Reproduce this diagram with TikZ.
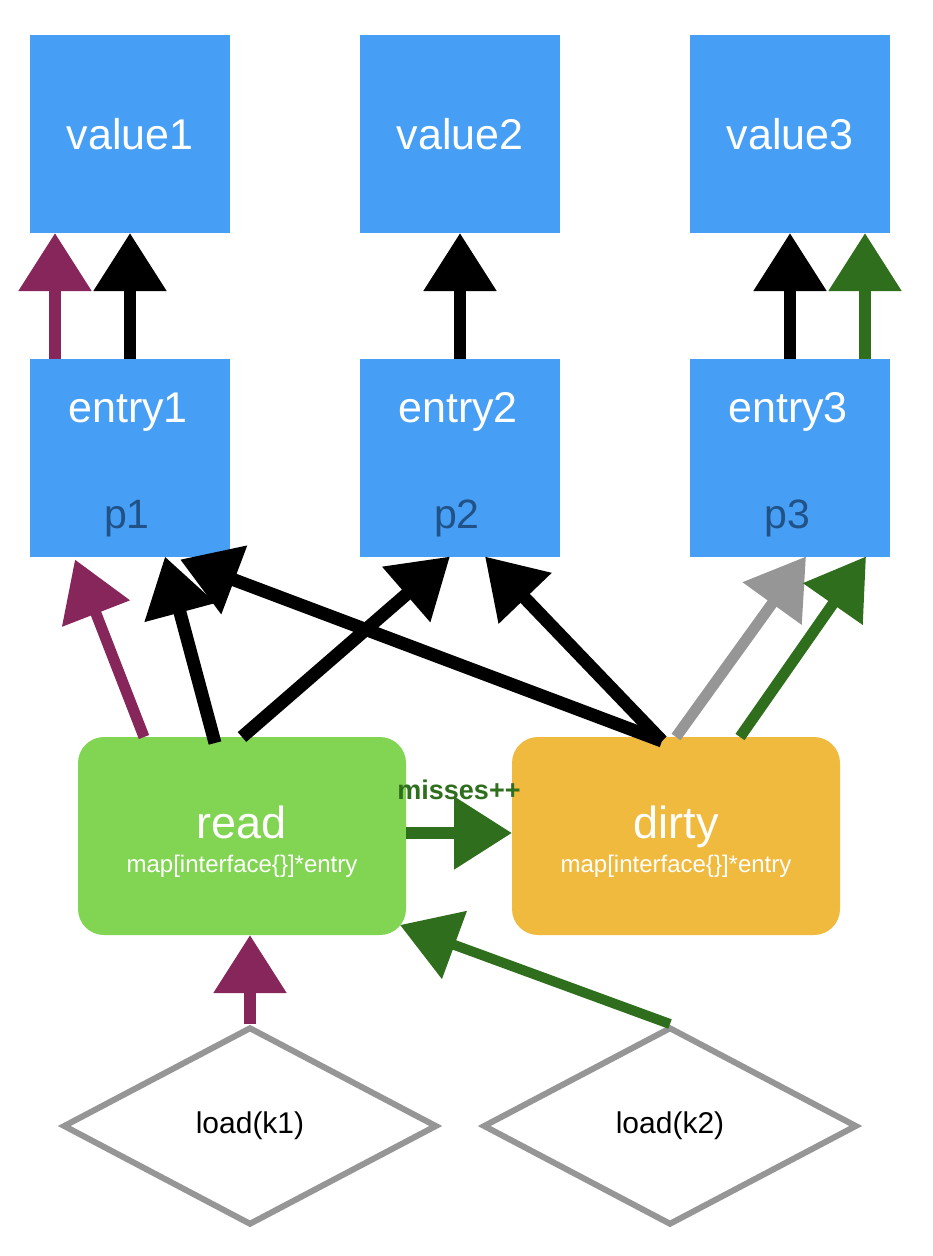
\documentclass[tikz,border=0pt]{standalone}
\usepackage{fontspec}
\setmainfont{Liberation Sans}
\usepackage{tikz}
\usetikzlibrary{arrows.meta,shapes.geometric,positioning}
\definecolor{CellBlue}{RGB}{70,158,245}
\definecolor{PtrNavy}{RGB}{33,82,135}
\definecolor{ReadGreen}{RGB}{130,213,82}
\definecolor{DirtyYellow}{RGB}{239,186,62}
\definecolor{LoadPlum}{RGB}{134,38,90}
\definecolor{StoreGreen}{RGB}{47,110,28}
\definecolor{EdgeGray}{RGB}{150,150,150}

\begin{document}
\begin{tikzpicture}[x=1pt, y=-1pt,
    cell/.style={fill=CellBlue, minimum width=200pt, minimum height=198pt, inner sep=0pt, outer sep=0pt},
    mapbox/.style={minimum width=328pt, minimum height=198pt, rounded corners=26pt, inner sep=0pt, outer sep=0pt},
    bigtxt/.style={anchor=base, text=white, font=\fontsize{43}{50}\selectfont},
    ptrtxt/.style={anchor=base, text=PtrNavy, font=\fontsize{41}{48}\selectfont},
    typetxt/.style={anchor=base, text=white, font=\fontsize{24}{28}\selectfont},
    loadbox/.style={shape=diamond, draw=EdgeGray, line width=6pt, fill=white, aspect=1.9,
        minimum width=374pt, minimum height=198pt, inner sep=0pt, font=\fontsize{30}{34}\selectfont},
    ptr/.style={line width=12pt, -{Triangle[length=58pt,width=70pt]}}]
    \useasboundingbox (0,0) rectangle (932,1256);

    \node[cell, text=white, font=\fontsize{43}{50}\selectfont] (value1) at (130,134) {value1};
    \node[cell, text=white, font=\fontsize{43}{50}\selectfont] (value2) at (460,134) {value2};
    \node[cell, text=white, font=\fontsize{43}{50}\selectfont] (value3) at (790,134) {value3};

    \node[cell] (entry1) at (130,457.5) {};
    \node[cell] (entry2) at (460,457.5) {};
    \node[cell] (entry3) at (790,457.5) {};
    \node[bigtxt] (e1name) at (128,422) {entry1};
    \node[bigtxt] (e2name) at (458,422) {entry2};
    \node[bigtxt] (e3name) at (788,422) {entry3};
    \node[ptrtxt] (e1ptr) at (127,528) {p1};
    \node[ptrtxt] (e2ptr) at (457,528) {p2};
    \node[ptrtxt] (e3ptr) at (787,528) {p3};

    \node[mapbox, fill=ReadGreen] (read) at (242,836) {};
    \node[mapbox, fill=DirtyYellow] (dirty) at (676,836) {};
    \node[bigtxt, font=\fontsize{45}{50}\selectfont] (readname) at (242,838) {read};
    \node[typetxt] (readtype) at (242,872) {map[interface\{\}]*entry};
    \node[bigtxt, font=\fontsize{45}{50}\selectfont] (dirtyname) at (676,838) {dirty};
    \node[typetxt] (dirtytype) at (676,872) {map[interface\{\}]*entry};

    \node[loadbox] (k1) at (250,1126) {load(k1)};
    \node[loadbox] (k2) at (670,1126) {load(k2)};

    \draw[ptr, LoadPlum] ([xshift=-75pt]entry1.north) -- ([xshift=-75pt]value1.south);
    \draw[ptr] (entry1.north) -- (value1.south);
    \draw[ptr] (entry2.north) -- (value2.south);
    \draw[ptr] (entry3.north) -- (value3.south);
    \draw[ptr, StoreGreen] ([xshift=75pt]entry3.north) -- ([xshift=75pt]value3.south);

    \draw[ptr, LoadPlum, line width=11pt] ([xshift=-98pt]read.north) -- ([xshift=-55pt,yshift=-3pt]entry1.south);
    \draw[ptr, line width=13pt] ([xshift=-27pt,yshift=-6pt]read.north) -- ([xshift=35pt]entry1.south);
    \draw[ptr, line width=13pt] (read.north) -- ([xshift=-10pt]entry2.south);
    \draw[ptr, line width=13pt] ([xshift=-14pt,yshift=-4pt]dirty.north) -- ([xshift=50pt,yshift=-3pt]entry1.south);
    \draw[ptr, line width=13pt] ([xshift=-14pt,yshift=-4pt]dirty.north) -- ([xshift=25pt]entry2.south);
    \draw[ptr, EdgeGray, line width=11pt] (dirty.north) -- ([xshift=16pt]entry3.south);
    \draw[ptr, StoreGreen, line width=11pt] ([xshift=64pt]dirty.north) -- ([xshift=76pt]entry3.south);

    \draw[ptr, StoreGreen] ([yshift=3pt]read.east) -- node[above=24pt, font=\bfseries\fontsize{27}{30}\selectfont] (misses) {misses++} ([yshift=3pt]dirty.west);
    \draw[ptr, LoadPlum] (k1.north) -- (k1.north |- read.south);
    \draw[ptr, StoreGreen, line width=10pt] (k2.north) -- ([xshift=-6pt,yshift=10pt]read.south east);
\end{tikzpicture}
\end{document}
